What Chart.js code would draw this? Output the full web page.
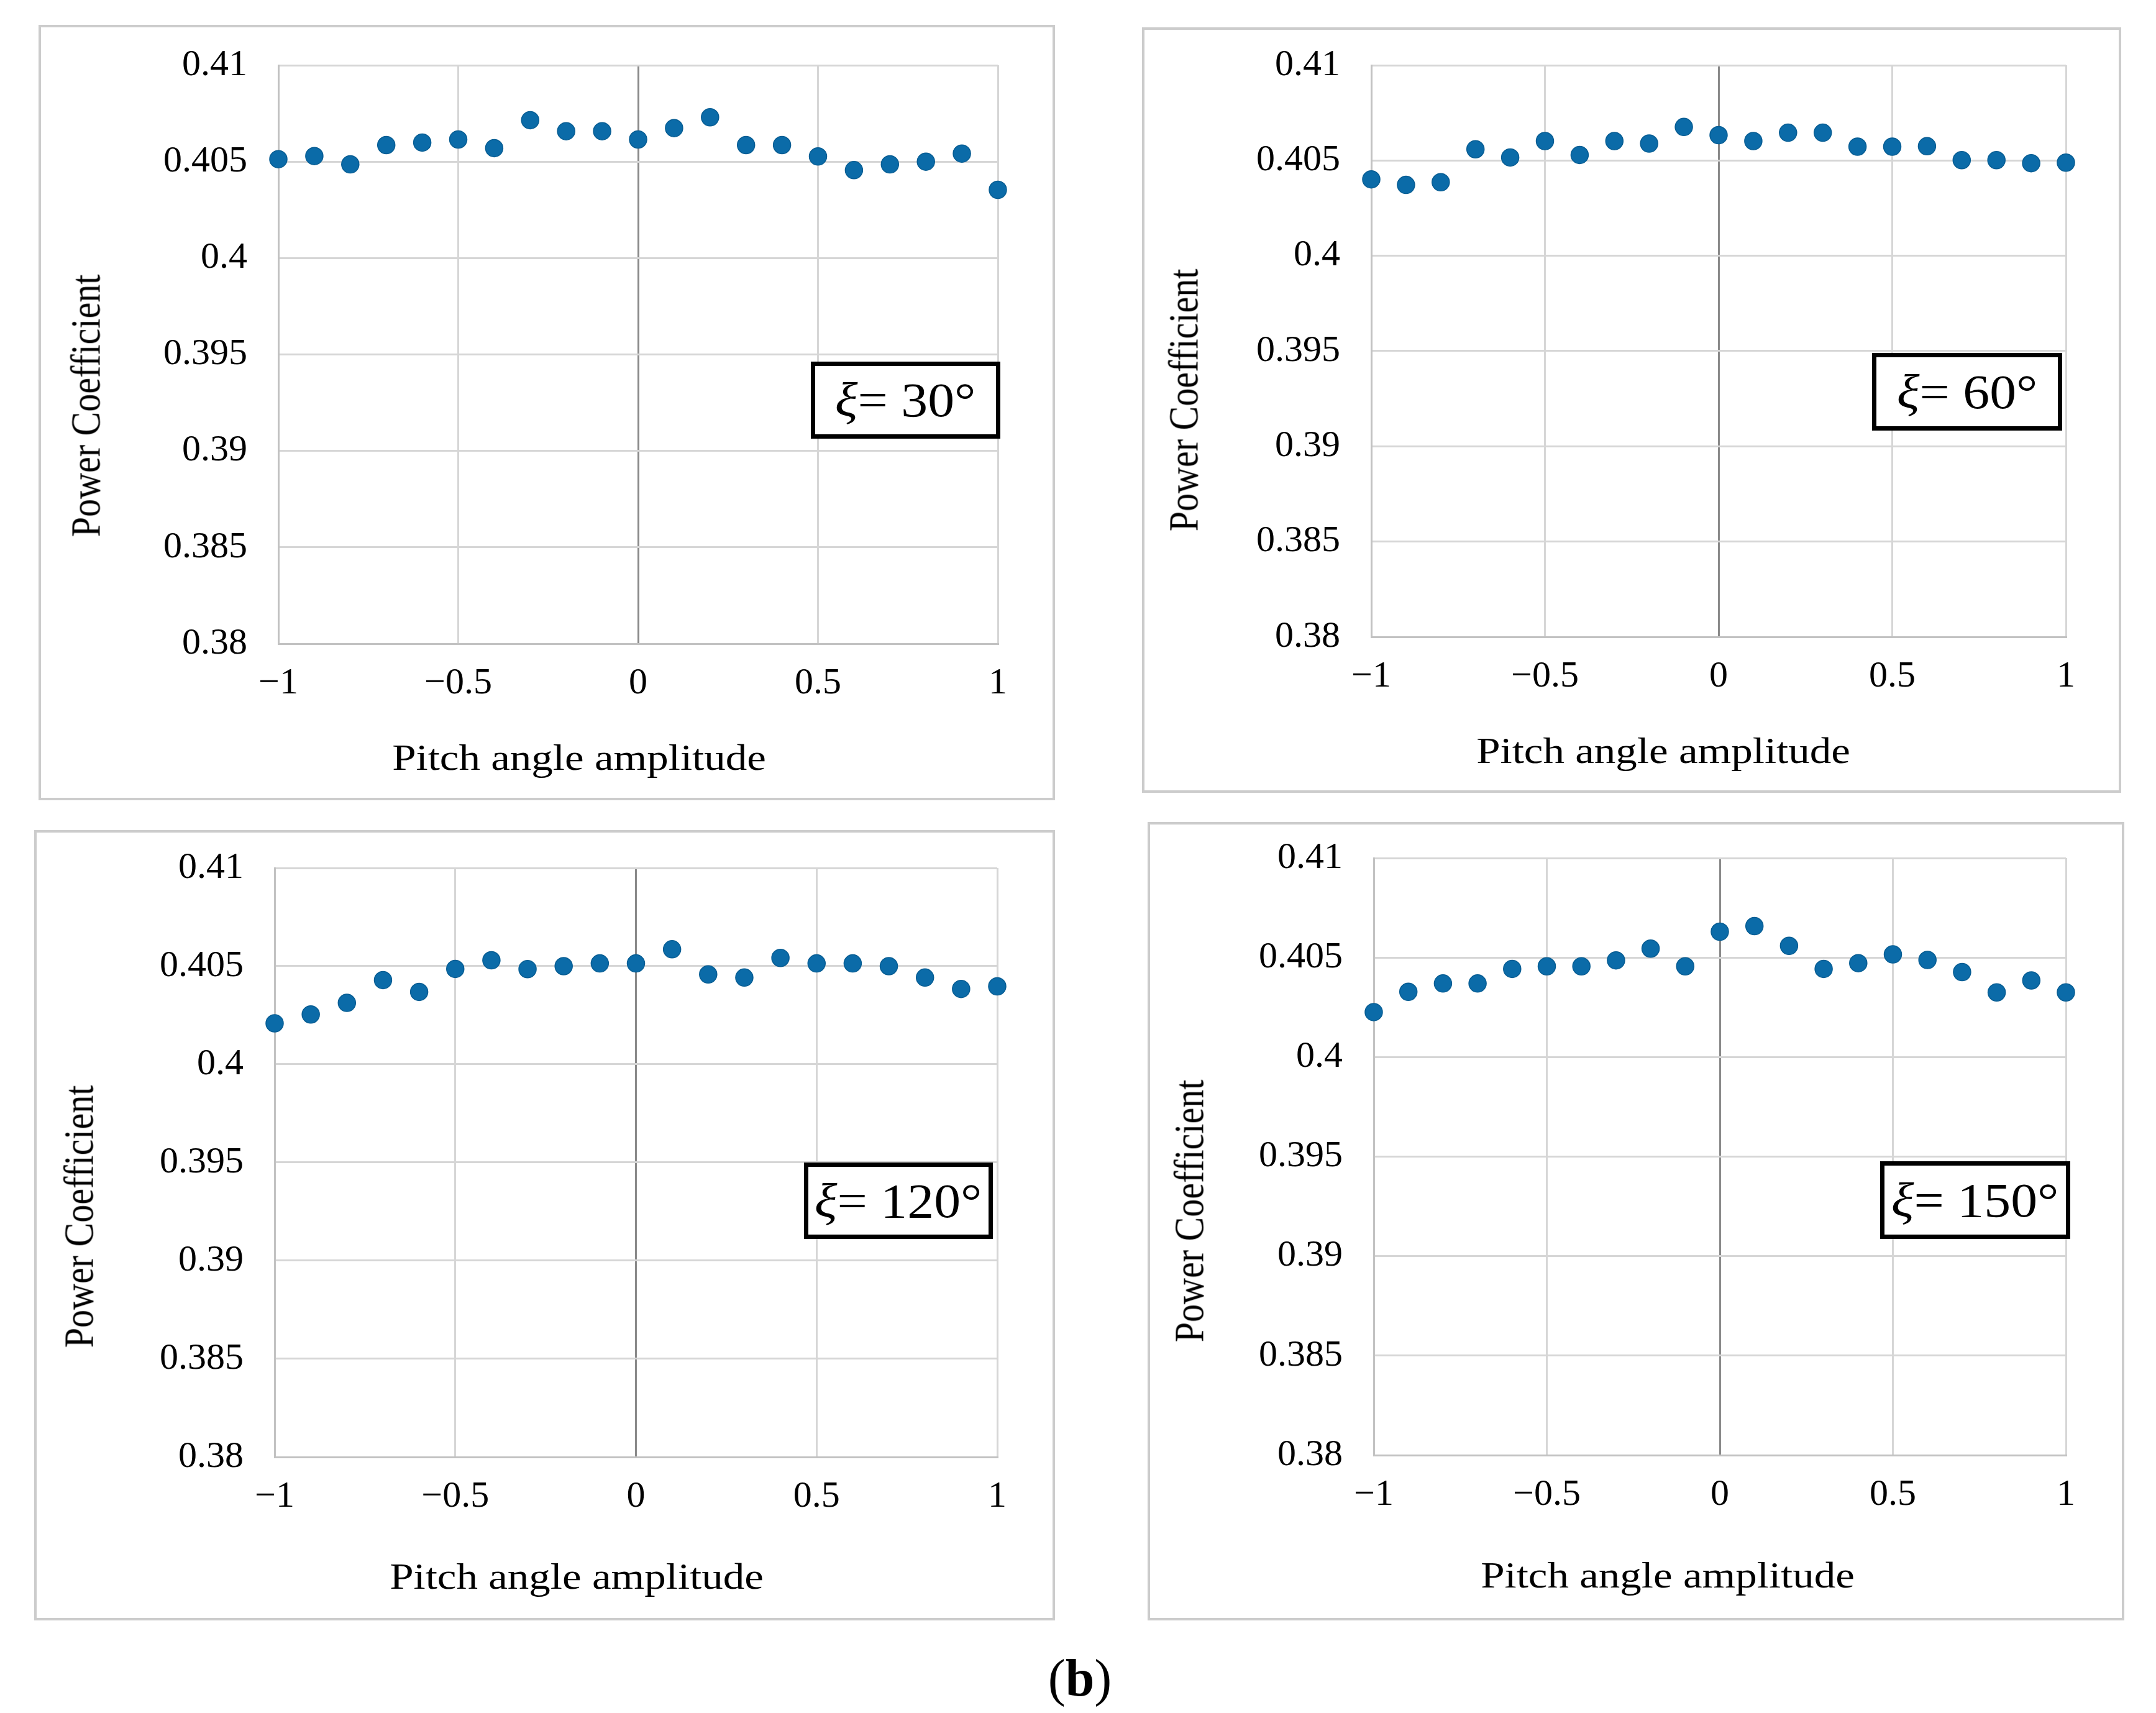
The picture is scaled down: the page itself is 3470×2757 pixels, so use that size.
<!DOCTYPE html>
<html lang="en">
<head>
<meta charset="UTF-8">
<title>Power Coefficient vs Pitch angle amplitude</title>
<script src="https://cdn.jsdelivr.net/npm/chart.js"></script>
<style>
  * { box-sizing: border-box; margin: 0; padding: 0; }
  body { width: 3470px; height: 2757px; background: white; position: relative; overflow: hidden; font-family: 'Liberation Serif', 'Times New Roman', serif; color: black; }
  .frame { position: absolute; border: 4px solid #cccccc; }
  .plot { position: absolute; }
  .ytitle { position: absolute; font-size: 58px; white-space: nowrap; transform: translate(-50%, -50%) scaleX(1.15) rotate(-90deg); }
  .xtitle { position: absolute; font-size: 60px; white-space: nowrap; transform: translate(-50%, -50%) scaleX(1.15); }
  .tag { position: absolute; border: 7px solid black; background: white; display: flex; align-items: center; justify-content: center; font-size: 78px; }
  .tag span { display: inline-block; transform: scaleX(1.1); }
  .tag i { font-style: italic; }
  .caption { position: absolute; left: 1738px; top: 2700px; transform: translate(-50%, -50%); font-size: 84px; white-space: nowrap; }
</style>
</head>
<body>
<div id="page"></div>
<div class="caption">(<b>b</b>)</div>

<script>
// data
const pitchAmp = [-1, -0.9, -0.8, -0.7, -0.6, -0.5, -0.4, -0.3, -0.2, -0.1, 0, 0.1, 0.2, 0.3, 0.4, 0.5, 0.6, 0.7, 0.8, 0.9, 1];
const cpXi30  = [0.40513, 0.40529, 0.40486, 0.40586, 0.40599, 0.40615, 0.40570, 0.40715, 0.40658, 0.40658, 0.40615, 0.40674, 0.40730, 0.40586, 0.40586, 0.40527, 0.40456, 0.40486, 0.40500, 0.40542, 0.40354];
const cpXi60  = [0.40401, 0.40372, 0.40386, 0.40559, 0.40516, 0.40602, 0.40529, 0.40602, 0.40589, 0.40676, 0.40633, 0.40602, 0.40646, 0.40646, 0.40573, 0.40573, 0.40575, 0.40502, 0.40502, 0.40486, 0.40489];
const cpXi120 = [0.40209, 0.40254, 0.40313, 0.40429, 0.40369, 0.40486, 0.40530, 0.40485, 0.40500, 0.40514, 0.40514, 0.40586, 0.40458, 0.40442, 0.40542, 0.40514, 0.40514, 0.40500, 0.40442, 0.40384, 0.40397];
const cpXi150 = [0.40226, 0.40328, 0.40370, 0.40370, 0.40443, 0.40456, 0.40456, 0.40486, 0.40545, 0.40456, 0.40630, 0.40658, 0.40559, 0.40443, 0.40472, 0.40516, 0.40488, 0.40427, 0.40325, 0.40385, 0.40325];
const xTicks = [-1, -0.5, 0, 0.5, 1];
const yTicks = [0.38, 0.385, 0.39, 0.395, 0.4, 0.405, 0.41];
const tagLabels = ['30°', '60°', '120°', '150°'];
const xTitle = 'Pitch angle amplitude';
const yTitle = 'Power Coefficient';

// layout in page pixels: frame box, plot area, title centres, tag box
const panels = [
  { data: cpXi30,  frame: [62, 40, 1698, 1288],   plot: [448, 105, 1606, 1036],   yt: [138, 653],  xt: [932, 1219],  tag: [1305, 582, 1610, 706] },
  { data: cpXi60,  frame: [1838, 44, 3414, 1276], plot: [2207, 105, 3325, 1025],  yt: [1905, 644], xt: [2677, 1208], tag: [3013, 568, 3319, 693] },
  { data: cpXi120, frame: [55, 1336, 1698, 2608], plot: [442, 1397, 1605, 2345],  yt: [127, 1958], xt: [928, 2537],  tag: [1294, 1871, 1598, 1994] },
  { data: cpXi150, frame: [1847, 1323, 3419, 2608], plot: [2211, 1381, 3325, 2342], yt: [1914, 1949], xt: [2684, 2535], tag: [3026, 1869, 3332, 1994] }
];

const page = document.getElementById('page');
const tickFont = { family: 'Liberation Serif', size: 60 };

function box(cls, r) {
  const d = document.createElement('div');
  d.className = cls;
  d.style.left = r[0] + 'px';
  d.style.top = r[1] + 'px';
  d.style.width = (r[2] - r[0]) + 'px';
  d.style.height = (r[3] - r[1]) + 'px';
  page.appendChild(d);
  return d;
}

function label(cls, pos, text) {
  const d = document.createElement('div');
  d.className = cls;
  d.style.left = pos[0] + 'px';
  d.style.top = pos[1] + 'px';
  d.textContent = text;
  page.appendChild(d);
}

panels.forEach((p, i) => {
  box('frame', p.frame);
  const holder = box('plot', p.frame);
  const cv = document.createElement('canvas');
  holder.appendChild(cv);

  new Chart(cv, {
    type: 'scatter',
    data: {
      datasets: [{
        data: pitchAmp.map((x, k) => ({ x: x, y: p.data[k] })),
        backgroundColor: '#0b6ba8',
        borderColor: '#075d93',
        borderWidth: 1.5,
        pointRadius: 14,
        pointHoverRadius: 14,
        clip: false
      }]
    },
    options: {
      responsive: true,
      maintainAspectRatio: false,
      animation: false,
      devicePixelRatio: 1,
      layout: { padding: { left: 0, bottom: 0, top: p.plot[1] - p.frame[1], right: p.frame[2] - p.plot[2] } },
      plugins: { legend: { display: false }, tooltip: { enabled: false } },
      scales: {
        x: {
          type: 'linear', min: -1, max: 1,
          afterBuildTicks: s => { s.ticks = xTicks.map(v => ({ value: v })); },
          afterFit: s => { s.height = p.frame[3] - p.plot[3]; s.paddingLeft = 0; s.paddingRight = 0; },
          ticks: {
            color: '#000', font: tickFont, padding: 28, maxRotation: 0, autoSkip: false,
            callback: v => String(v).replace('-', '\u2212')
          },
          grid: { color: c => (c.tick && c.tick.value === 0) ? '#8a8a8a' : '#d6d6d6', lineWidth: 3, drawTicks: false },
          border: { color: '#c2c2c2', width: 3 }
        },
        y: {
          min: 0.38, max: 0.41,
          afterBuildTicks: s => { s.ticks = yTicks.map(v => ({ value: v })); },
          afterFit: s => { s.width = p.plot[0] - p.frame[0]; s.paddingTop = 0; s.paddingBottom = 0; },
          ticks: {
            color: '#000', font: tickFont, padding: 50, autoSkip: false,
            callback: v => String(+v.toFixed(3))
          },
          grid: { color: '#d6d6d6', lineWidth: 3, drawTicks: false },
          border: { color: '#c2c2c2', width: 3 }
        }
      }
    }
  });

  label('ytitle', p.yt, yTitle);
  label('xtitle', p.xt, xTitle);
  const t = box('tag', p.tag);
  t.innerHTML = '<span><i>ξ</i>= ' + tagLabels[i] + '</span>';
});
</script>
</body>
</html>
